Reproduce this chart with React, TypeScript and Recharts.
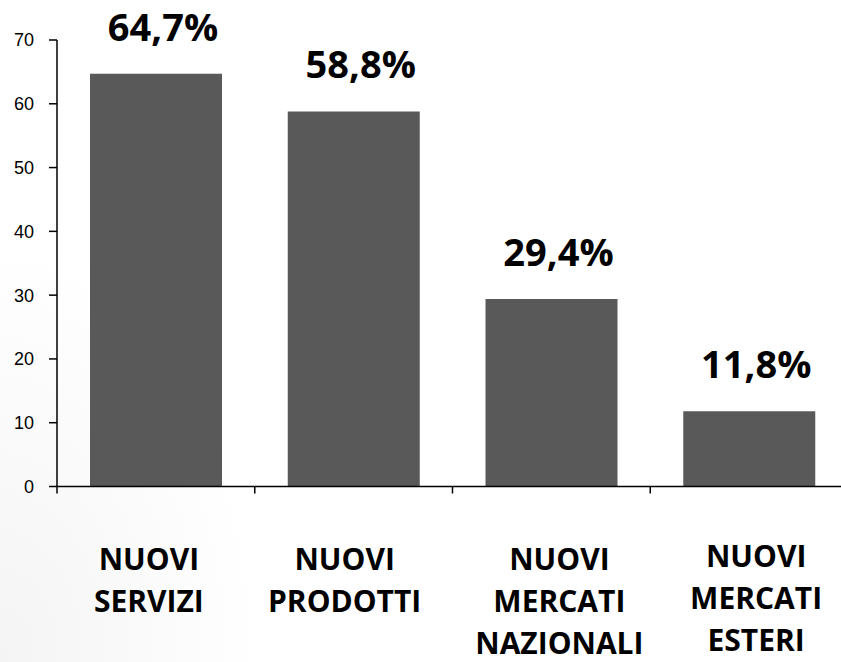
import { BarChart, Bar, XAxis, YAxis, LabelList } from 'recharts'

const categories = ['NUOVI SERVIZI', 'NUOVI PRODOTTI', 'NUOVI MERCATI NAZIONALI', 'NUOVI MERCATI ESTERI']
const values = [64.7, 58.8, 29.4, 11.8]
const yTicks = [0, 10, 20, 30, 40, 50, 60, 70]

// small nudges so the category text sits like the original text boxes
const labelShiftX = [-7, -9, 8, 7]
const labelShiftY = [0, 0, 0, -3]

const data = categories.map((name, i) => ({ name, value: values[i] }))

const BAND = 791 / categories.length

function CategoryTick(props: any) {
  const { x, y, payload, index } = props
  const words: string[] = String(payload.value).split(' ')
  const left = x - BAND / 2
  const cx = x + labelShiftX[index]
  return (
    <g>
      <line x1={left} y1={y} x2={left} y2={y + 7} stroke="#000" strokeWidth={1.5} />
      <text
        x={cx}
        y={y + 83 + labelShiftY[index]}
        textAnchor="middle"
        fontFamily="'Open Sans', sans-serif"
        fontWeight={700}
        fontSize={30}
        fill="#000"
      >
        {words.map((w, i) => (
          <tspan key={i} x={cx} dy={i === 0 ? 0 : 42}>
            {w}
          </tspan>
        ))}
      </text>
    </g>
  )
}

function ValueLabel(props: any) {
  const { x, y, width, value } = props
  return (
    <text
      x={x + width / 2 + 7}
      y={y - 33}
      textAnchor="middle"
      fontFamily="'Open Sans', sans-serif"
      fontWeight={700}
      fontSize={38}
      fill="#000"
    >
      {String(value).replace('.', ',')}%
    </text>
  )
}

export default function App() {
  return (
    <div
      style={{
        position: 'absolute',
        left: 0,
        top: 0,
        width: 841,
        height: 662,
        overflow: 'hidden',
        background: 'radial-gradient(ellipse 260px 420px at 0% 100%, #f4f4f4 0%, #ffffff 100%)',
      }}
    >
      <BarChart
        width={848}
        height={662}
        data={data}
        margin={{ top: 40, right: 0, bottom: 0, left: 0 }}
      >
        <XAxis
          dataKey="name"
          interval={0}
          height={175.5}
          tickSize={0}
          tickMargin={0}
          tickLine={false}
          axisLine={{ stroke: '#000', strokeWidth: 1.5 }}
          tick={<CategoryTick />}
        />
        <YAxis
          width={57}
          domain={[0, 70]}
          ticks={yTicks}
          interval={0}
          tickSize={8}
          tickMargin={15}
          axisLine={{ stroke: '#000', strokeWidth: 1.5 }}
          tickLine={{ stroke: '#000', strokeWidth: 1.5 }}
          tick={{ fill: '#000', fontSize: 18, fontFamily: "'Liberation Sans', Arial, sans-serif" }}
        />
        <Bar dataKey="value" fill="#595959" barSize={132} isAnimationActive={false}>
          <LabelList dataKey="value" content={<ValueLabel />} />
        </Bar>
      </BarChart>
    </div>
  )
}
